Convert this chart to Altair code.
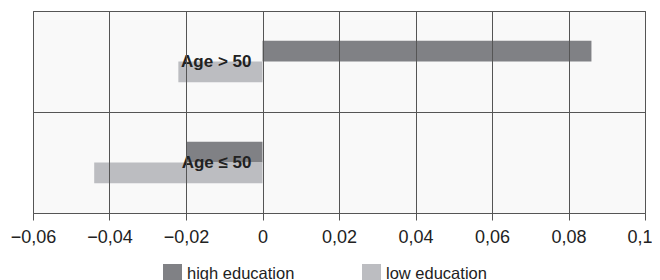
import altair as alt
import pandas as pd

groups = ["Age > 50", "Age > 50", "Age ≤ 50", "Age ≤ 50"]
education = ["high education", "low education", "high education", "low education"]
values = [0.086, -0.022, -0.020, -0.044]

categories = ["Age > 50", "Age ≤ 50"]
series = ["high education", "low education"]
colors = ["#808185", "#bcbdc1"]
x_ticks = [-0.06, -0.04, -0.02, 0, 0.02, 0.04, 0.06, 0.08, 0.1]

df = pd.DataFrame({"group": groups, "education": education, "value": values})
labels_df = pd.DataFrame({"group": categories, "x": [0, 0]})

FONT = "Liberation Sans"
GRID = "#555555"

x_scale = alt.Scale(domain=[-0.06, 0.1], nice=False, zero=False)
y_scale = alt.Scale(domain=categories, paddingInner=0, paddingOuter=0)
# empty slots around the two bars keep them narrow inside each band
offset_domain = ["_a"] + series + ["_b"]

bars = alt.Chart(df).mark_bar().encode(
    x=alt.X("value:Q", scale=x_scale,
            axis=alt.Axis(values=x_ticks, grid=True, gridColor=GRID, gridWidth=1,
                          ticks=True, tickSize=7, tickColor=GRID, tickWidth=1,
                          domain=False, labelFontSize=18, labelColor="#222222",
                          labelFont=FONT, labelPadding=8, labelFlush=False,
                          labelOverlap=False, title=None, zindex=1,
                          labelAlign={"condition": {"test": "datum.value >= 0.1", "value": "right"},
                                      "value": "center"},
                          labelOffset={"condition": {"test": "datum.value >= 0.1", "value": 7},
                                       "value": 0},
                          labelExpr="replace(format(datum.value, '.2~f'), '.', ',')")),
    x2=alt.datum(0),
    y=alt.Y("group:N", scale=y_scale, sort=categories,
            axis=alt.Axis(labels=False, ticks=False, domain=False, grid=True,
                          gridColor=GRID, gridWidth=1, bandPosition=0, title=None, zindex=1)),
    yOffset=alt.YOffset("education:N",
                        scale=alt.Scale(domain=offset_domain, paddingInner=0, paddingOuter=0.43)),
    color=alt.Color("education:N", scale=alt.Scale(domain=series, range=colors),
                    legend=alt.Legend(orient="none", legendX=130, legendY=253,
                                      direction="horizontal", title=None,
                                      symbolType="square", symbolSize=361,
                                      symbolStrokeWidth=0, labelFontSize=16.5,
                                      labelFont=FONT, labelColor="#222222",
                                      labelOffset=5, columnPadding=67, padding=0,
                                      labelLimit=300)),
)

text = alt.Chart(labels_df).mark_text(
    align="right", baseline="middle", dx=-11, fontSize=17, fontWeight="bold",
    font=FONT, color="#222222"
).encode(
    x=alt.X("x:Q", scale=x_scale),
    y=alt.Y("group:N", scale=y_scale, sort=categories),
    text="group:N",
)

chart = alt.layer(bars, text).properties(
    width=612, height=202,
    autosize=alt.AutoSizeParams(type="none"),
    padding={"left": 25, "top": 3, "right": 7, "bottom": 67},
).configure_view(
    stroke=GRID, strokeWidth=1, fill="#f9f9f9"
)

chart.save("out.html", embed_options={"renderer": "svg", "actions": False})
